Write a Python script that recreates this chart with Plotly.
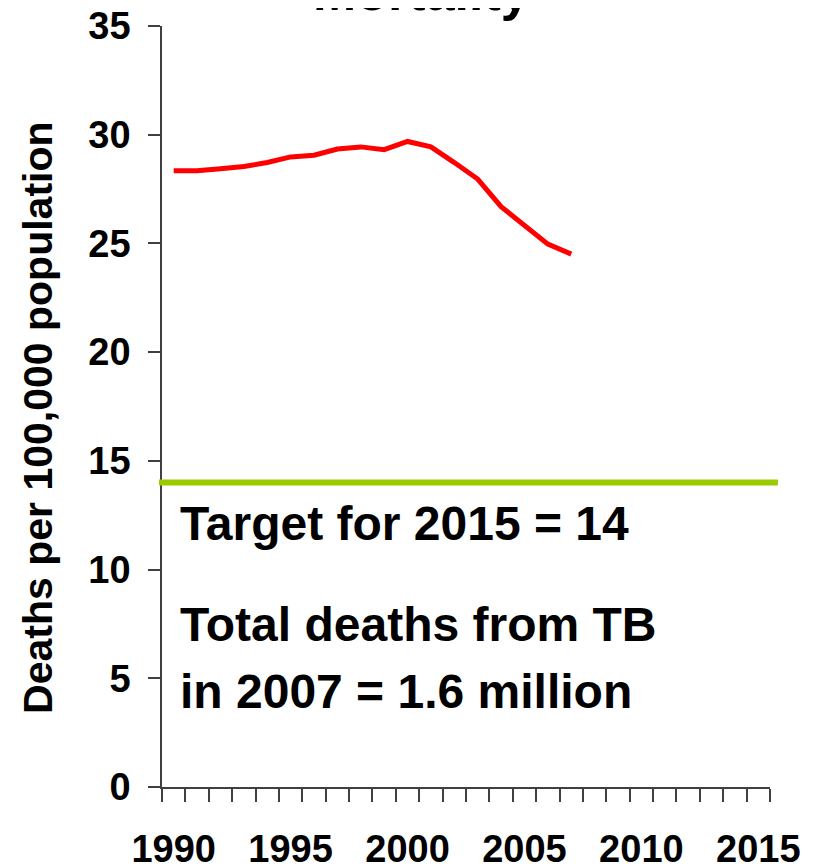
import plotly.graph_objects as go

# Data
years = list(range(1990, 2008))
mortality = [28.34, 28.34, 28.43, 28.54, 28.72, 28.98, 29.06, 29.34, 29.44, 29.31,
             29.69, 29.44, 28.72, 27.96, 26.69, 25.86, 24.97, 24.51]
label_years = [1990, 1995, 2000, 2005, 2010, 2015]
label_text = [str(y) for y in label_years]
y_ticks = [0, 5, 10, 15, 20, 25, 30, 35]
target_value = 14

FONT = "Liberation Sans, Arial, sans-serif"
AXIS_COLOR = "#404040"

fig = go.Figure()
fig.add_trace(go.Scatter(x=years, y=mortality, mode="lines",
                         line=dict(color="#FF0000", width=5),
                         showlegend=False, hoverinfo="skip"))

fig.add_shape(type="line", xref="x domain", yref="y",
              x0=-0.005, x1=1.013, y0=target_value, y1=target_value,
              line=dict(color="#99CC00", width=6), layer="above")

# page body has an 8px default margin, so margins are reduced by 8px
fig.update_layout(
    width=814, height=867,
    margin=dict(l=154, r=52, t=18, b=88, autoexpand=False),
    plot_bgcolor="white", paper_bgcolor="white",
    showlegend=False,
    xaxis=dict(
        range=[1989.5, 2015.5], automargin=False,
        tickmode="array", tickvals=label_years, ticktext=label_text,
        ticks="", ticklabeloverflow="allow",
        showline=True, linecolor=AXIS_COLOR, linewidth=1.5,
        showgrid=False, zeroline=False,
        tickfont=dict(family=FONT, size=38, color="black", weight="bold"),
        ticklabelstandoff=28,
        minor=dict(tickmode="linear", tick0=1989.5, dtick=1, ticks="outside",
                   ticklen=13, tickwidth=1.5, tickcolor=AXIS_COLOR, showgrid=False),
    ),
    yaxis=dict(
        range=[0, 35], automargin=False,
        tickmode="array", tickvals=y_ticks, ticklabeloverflow="allow",
        ticks="outside", ticklen=12, tickwidth=1.5, tickcolor=AXIS_COLOR,
        showline=True, linecolor=AXIS_COLOR, linewidth=1.5,
        showgrid=False, zeroline=False,
        tickfont=dict(family=FONT, size=38, color="black", weight="bold"),
        ticklabelstandoff=10,
    ),
    annotations=[
        dict(text="Mortality", xref="paper", yref="paper", x=0.426, y=1.045,
             xanchor="center", yanchor="middle", showarrow=False,
             font=dict(family=FONT, size=52, color="black", weight="bold")),
        dict(text="Deaths per 100,000 population", xref="paper", yref="paper",
             x=-0.204, y=0.485, xanchor="center", yanchor="middle",
             textangle=-90, showarrow=False,
             font=dict(family=FONT, size=41, color="black", weight="bold")),
        dict(text="Target for 2015 = 14", xref="paper", yref="paper",
             x=0.026, y=0.3456, xanchor="left", yanchor="middle", showarrow=False,
             font=dict(family=FONT, size=48, color="black", weight="bold")),
        dict(text="Total deaths from TB", xref="paper", yref="paper",
             x=0.026, y=0.214, xanchor="left", yanchor="middle", showarrow=False,
             font=dict(family=FONT, size=48, color="black", weight="bold")),
        dict(text="in 2007 = 1.6 million", xref="paper", yref="paper",
             x=0.026, y=0.126, xanchor="left", yanchor="middle", showarrow=False,
             font=dict(family=FONT, size=48, color="black", weight="bold")),
    ],
)

fig.write_html("out.html")
